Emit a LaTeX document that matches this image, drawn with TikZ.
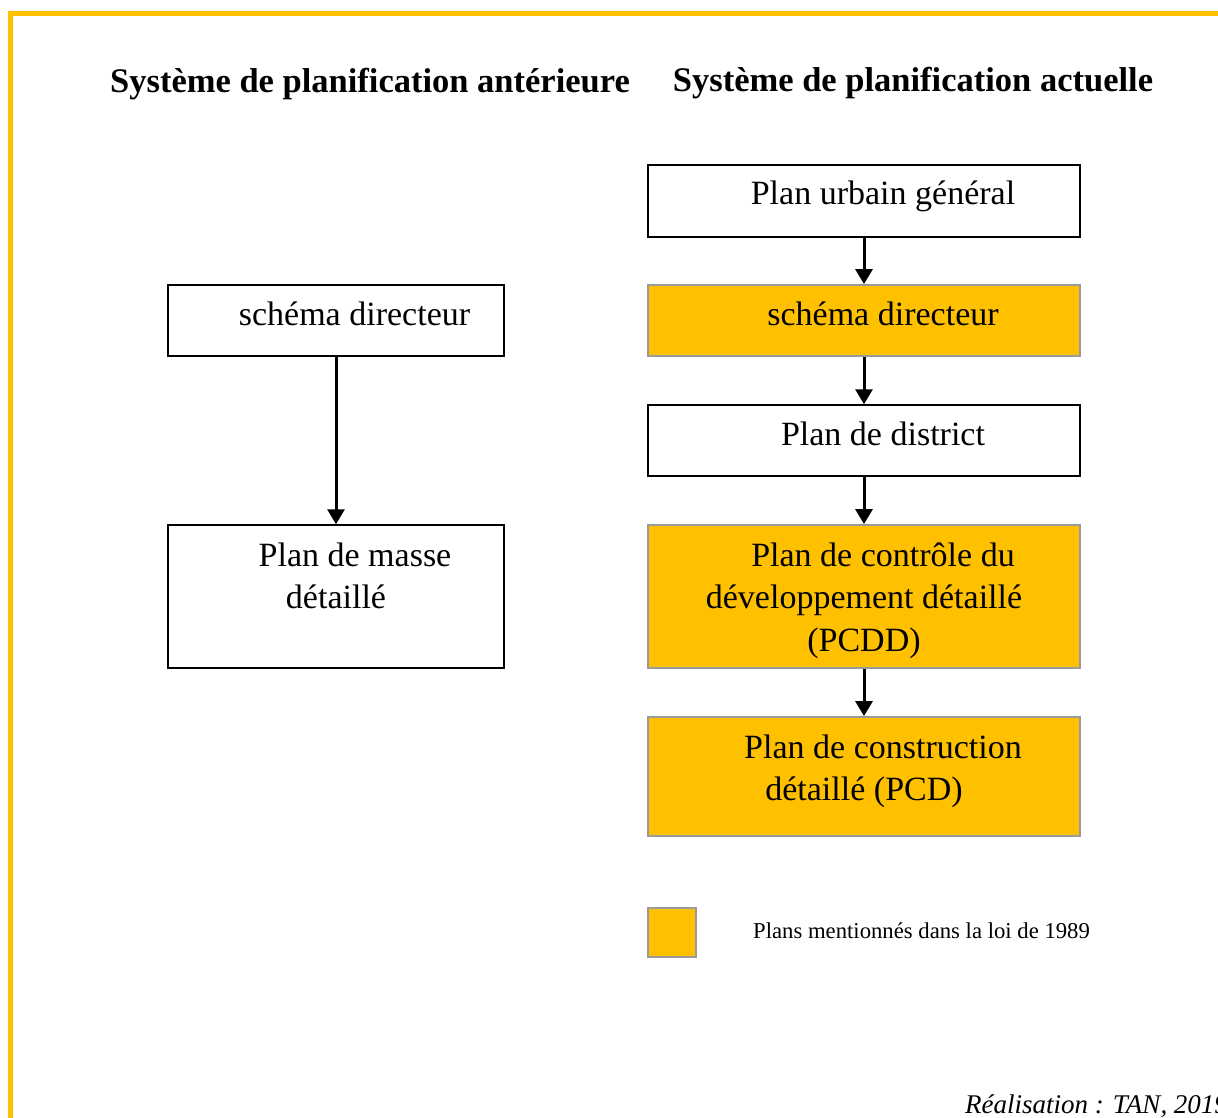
\documentclass[tikz,border=0pt]{standalone}
\usepackage{fontspec}
\setmainfont{Liberation Serif}
\usetikzlibrary{arrows.meta}
\definecolor{gold}{HTML}{FFC000}
\definecolor{edgegray}{HTML}{9A9A9A}
\begin{document}
\begin{tikzpicture}[x=1pt,y=-1pt,
  plainbox/.style={draw=black,line width=1.5pt,fill=white,rectangle,inner sep=0pt},
  goldbox/.style={draw=edgegray,line width=1.8pt,fill=gold,rectangle,inner sep=0pt},
  boxtext/.style={anchor=base,inner sep=0pt,font=\fontsize{34}{40}\selectfont},
  headtext/.style={anchor=base,inner sep=0pt,font=\fontsize{34.5}{40}\selectfont\bfseries},
  flow/.style={line width=3pt,-{Triangle[length=15pt,width=17pt]}}]
\useasboundingbox (0,0) rectangle (1218,1118);
% frame
\draw[gold,line width=5pt] (10,1118) -- (10,14) -- (1218,14);
% headings
\node[headtext] (h1) at (370,93) {Système de planification antérieure};
\node[headtext] (h2) at (913,92) {Système de planification actuelle};
% left column
\node[plainbox,minimum width=336pt,minimum height=71pt] (lsd) at (336,320.5) {};
\node[plainbox,minimum width=336pt,minimum height=143pt] (lpm) at (336,596.5) {};
\node[boxtext] (tlsd) at (354.5,325) {schéma directeur};
\node[boxtext] (tlpm1) at (355,566) {Plan de masse};
\node[boxtext] (tlpm2) at (336,608) {détaillé};
\draw[flow] (lsd.south) -- (lpm.north);
% right column
\node[plainbox,minimum width=432pt,minimum height=72pt] (pug) at (864,201) {};
\node[goldbox,minimum width=432pt,minimum height=71pt] (rsd) at (864,320.5) {};
\node[plainbox,minimum width=432pt,minimum height=71pt] (pd) at (864,440.5) {};
\node[goldbox,minimum width=432pt,minimum height=143pt] (pcdd) at (864,596.5) {};
\node[goldbox,minimum width=432pt,minimum height=119pt] (pcd) at (864,776.5) {};
\node[boxtext] (tpug) at (883,205) {Plan urbain général};
\node[boxtext] (trsd) at (883,325) {schéma directeur};
\node[boxtext] (tpd) at (883,445) {Plan de district};
\node[boxtext] (tpcdd1) at (883,566) {Plan de contrôle du};
\node[boxtext] (tpcdd2) at (864,608) {développement détaillé};
\node[boxtext] (tpcdd3) at (864,651) {(PCDD)};
\node[boxtext] (tpcd1) at (883,758) {Plan de construction};
\node[boxtext] (tpcd2) at (864,800) {détaillé (PCD)};
\draw[flow] (pug.south) -- (rsd.north);
\draw[flow] (rsd.south) -- (pd.north);
\draw[flow] (pd.south) -- (pcdd.north);
\draw[flow] (pcdd.south) -- (pcd.north);
% legend
\node[goldbox,minimum width=48pt,minimum height=49pt] (leg) at (672,932.5) {};
\node[anchor=base west,inner sep=0pt,font=\fontsize{22.7}{27}\selectfont] (legt) at (753,938) {Plans mentionnés dans la loi de 1989};
% credit
\node[anchor=base west,inner sep=0pt,font=\fontsize{27}{32}\selectfont\itshape] (credit) at (965,1113) {Réalisation : TAN, 2019};
\end{tikzpicture}
\end{document}
